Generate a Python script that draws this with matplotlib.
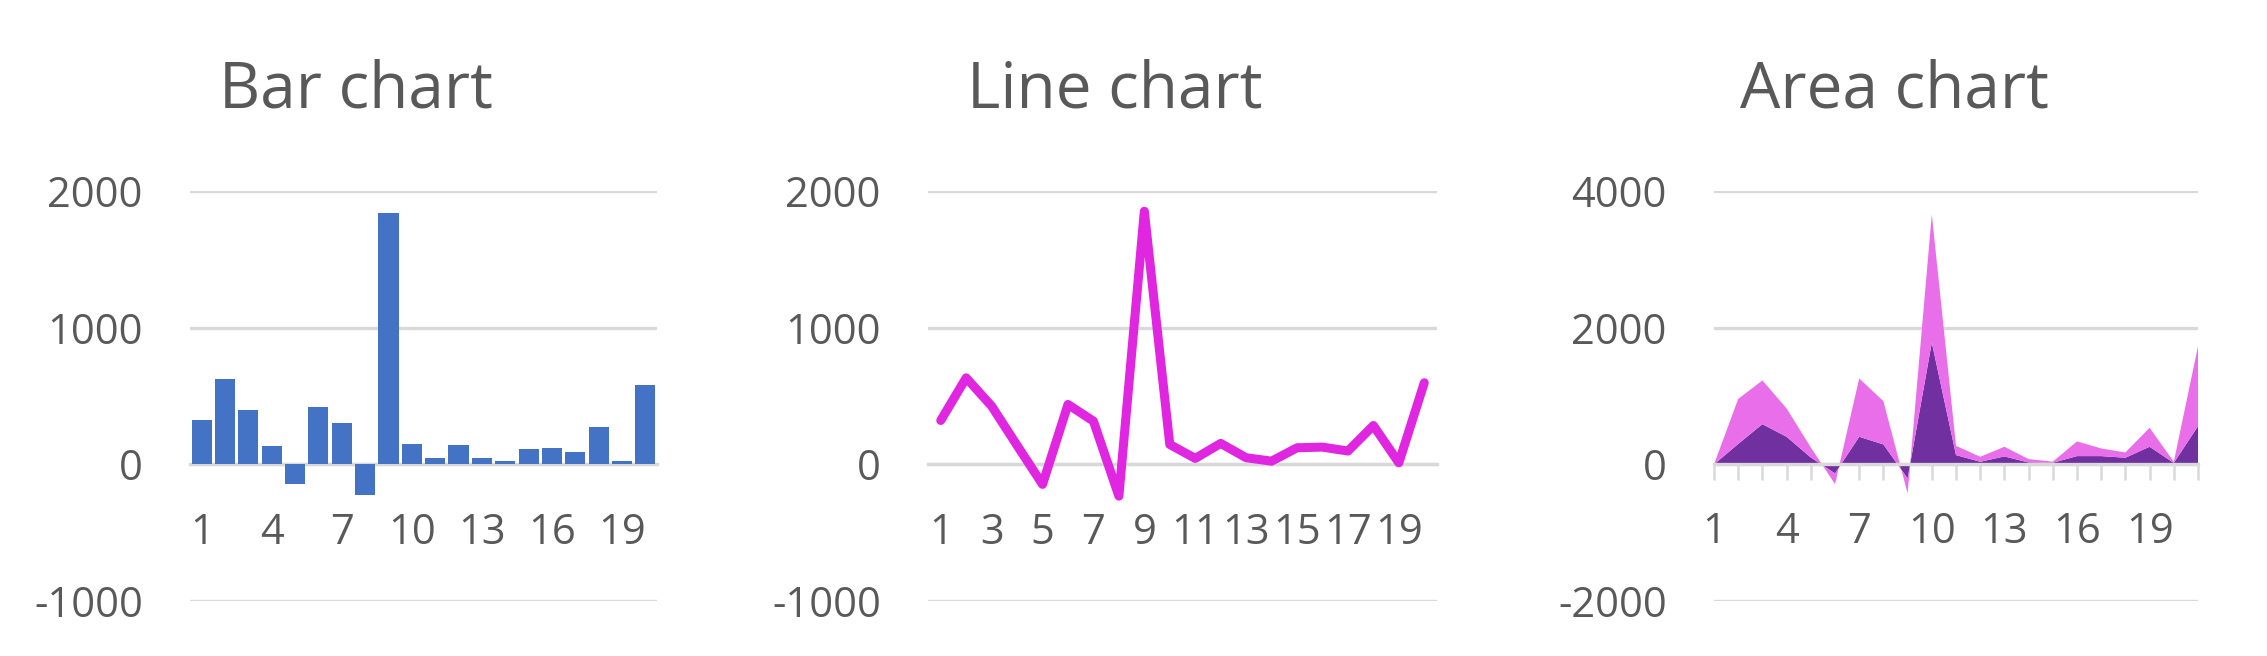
import matplotlib
matplotlib.use("Agg")
import matplotlib.pyplot as plt
from matplotlib.ticker import FixedLocator, FuncFormatter

plt.rcParams['font.family'] = ['Open Sans', 'DejaVu Sans']
plt.rcParams['axes.unicode_minus'] = False

# data
bar_cats = list(range(1, 21))
bar_vals = [322, 622, 402, 134, -146, 424, 307, -227, 1839, 146,
            44, 139, 44, 22, 110, 117, 88, 271, 22, 578]

line_cats = list(range(1, 21))
line_vals = [322, 634, 427, 139, -146, 439, 317, -232, 1854, 146,
             44, 154, 49, 24, 122, 127, 98, 285, 12, 598]

area_cats = list(range(1, 22))
area_dark = [0, 300, 590, 405, 102, -132, 405, 293, -205, 1785, 137,
             39, 117, 29, 24, 122, 122, 98, 259, 22, 561]
area_pink = [0, 660, 640, 415, 147, -156, 854, 634, -219, 1878, 136,
             73, 142, 49, 17, 215, 112, 78, 278, 17, 1171]

titles = ["Bar chart", "Line chart", "Area chart"]

TEXT = "#595959"
GRID = "#d9d9d9"

W, H = 2267, 656
fig = plt.figure(figsize=(W / 100, H / 100), dpi=100)


def make_ax(x0, x1, yticks):
    ax = fig.add_axes([x0 / W, 1 - 601 / H, (x1 - x0) / W, (601 - 191.3) / H])
    ax.set_ylim(yticks[0], yticks[-1])
    ax.yaxis.set_major_locator(FixedLocator(yticks))
    ax.yaxis.set_major_formatter(FuncFormatter(lambda v, p: "%d" % v))
    ax.grid(axis="y", color=GRID, linewidth=2.4)
    ax.set_axisbelow(True)
    for s in ["top", "right", "left", "bottom"]:
        ax.spines[s].set_visible(False)
    ax.spines["bottom"].set_visible(True)
    ax.spines["bottom"].set_position(("data", 0))
    ax.spines["bottom"].set_color(GRID)
    ax.spines["bottom"].set_linewidth(2.4)
    ax.tick_params(axis="y", length=0, pad=34, labelsize=30, labelcolor=TEXT)
    ax.tick_params(axis="x", length=0, pad=34, labelsize=30, labelcolor=TEXT)
    return ax


# bar chart
ax1 = make_ax(190, 657, [-1000, 0, 1000, 2000])
ax1.bar(bar_cats, bar_vals, width=0.86, color="#4472c4", zorder=3)
ax1.set_xlim(0.5, 20.5)
ax1.set_xticks(bar_cats[::3])

# line chart
ax2 = make_ax(928, 1437, [-1000, 0, 1000, 2000])
ax2.plot(line_cats, line_vals, color="#e026e0", linewidth=6.5,
         solid_joinstyle="round", solid_capstyle="round", zorder=3)
ax2.set_xlim(0.5, 20.5)
ax2.set_xticks(line_cats[::2])

# area chart (stacked)
ax3 = make_ax(1714, 2198, [-2000, 0, 2000, 4000])
ax3.stackplot(area_cats, area_dark, area_pink,
              colors=["#7030a0", "#e96fea"], linewidth=0, zorder=2)
ax3.set_xlim(1, 21)
ax3.spines["bottom"].set_zorder(3)
ax3.set_xticks(area_cats)
ax3.set_xticklabels([str(c) if (c - 1) % 3 == 0 and c < 20 else "" for c in area_cats])
ax3.tick_params(axis="x", direction="out", length=11.5, width=1.8,
                color=GRID, pad=22)

for xc, t in zip([356, 1115, 1894], titles):
    fig.text(xc / W, 1 - 108 / H, t, ha="center", va="baseline",
             fontsize=46, color=TEXT)

fig.savefig("out.png", dpi=100, facecolor="white")
